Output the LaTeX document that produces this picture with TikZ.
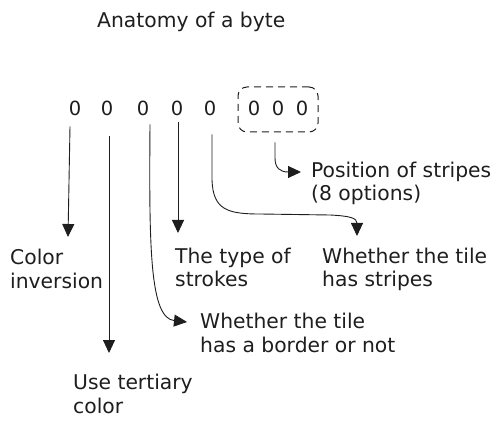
\documentclass[tikz,border=0pt]{standalone}
\usepackage{fontspec}
\setmainfont{DejaVu Sans}
\usetikzlibrary{arrows.meta}
\definecolor{ink}{HTML}{1E1E1E}
\begin{document}
\begin{tikzpicture}[x=1pt,y=-1pt,
  txt/.style={font=\fontsize{20.3}{23.5}\selectfont, text=ink, inner sep=0pt, align=left, anchor=base west},
  digit/.style={font=\fontsize{19.5}{23}\selectfont, text=ink, inner sep=0pt, anchor=base},
  conn/.style={draw=ink, line width=0.9pt, -{Triangle[length=13pt,width=12pt]}},
  dashbox/.style={draw=ink, line width=1pt, dash pattern=on 7pt off 5pt, rounded corners=9pt,
    minimum width=80pt, minimum height=45pt, inner sep=0pt}]
\useasboundingbox (0,0) rectangle (503,430);
% title
\node[txt] (title) at (97,28) {Anatomy of a byte};
% digits
\node[digit] (d1) at (75,116) {0};
\node[digit] (d2) at (107,116) {0};
\node[digit] (d3) at (143,116) {0};
\node[digit] (d4) at (177,116) {0};
\node[digit] (d5) at (210,116) {0};
\node[dashbox] (bx) at (278,109.5) {};
\node[digit] (d6) at (254,116) {0};
\node[digit] (d7) at (278,116) {0};
\node[digit] (d8) at (302,116) {0};
% labels (base = last line baseline)
\node[txt] (l1) at (10,288) {Color\\inversion};
\node[txt] (l2) at (73,413) {Use tertiary\\color};
\node[txt] (l3) at (200,352) {Whether the tile\\has a border or not};
\node[txt] (l4) at (175,287) {The type of\\strokes};
\node[txt] (l5) at (322,287) {Whether the tile\\has stripes};
\node[txt] (l6) at (311,201) {Position of stripes\\(8 options)};
% arrow tips
\coordinate (t1) at (68,237);
\coordinate (t2) at (109,353);
\coordinate (t3) at (187,322);
\coordinate (t4) at (178,233);
\coordinate (t5) at (357,236);
\coordinate (t6) at (301,172);
% connectors
\draw[conn] ([xshift=-5pt,yshift=-10pt]d1.south) -- (t1);
\draw[conn] ([xshift=2pt,yshift=-20pt]d2.south) -- (t2);
\draw[conn] ([xshift=7pt,yshift=-8pt]d3.south) .. controls (149,250) and (150,318) .. (t3);
\draw[conn] ([xshift=1pt,yshift=-6pt]d4.south) -- (t4);
\draw[conn] ([xshift=2pt,yshift=-18pt]d5.south) -- (212,180)
   .. controls (213,210) and (228,214) .. (260,214) -- (330,215)
   .. controls (350,216) and (357,218) .. (t5);
\draw[conn] ([xshift=-3pt,yshift=-10pt]bx.south) -- (275,158) .. controls (275,168) and (280,172) .. (t6);
\end{tikzpicture}
\end{document}
